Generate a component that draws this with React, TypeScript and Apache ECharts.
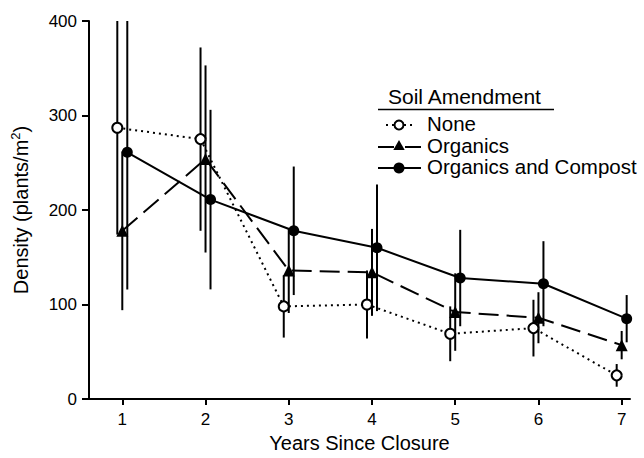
import React, { useEffect, useRef } from "react";
import * as echarts from "echarts";

const years = [1, 2, 3, 4, 5, 6, 7];
const seriesNames = ["None", "Organics", "Organics and Compost"];
const xOffsets = [-0.06, 0, 0.06];
const noneMean = [287, 275, 98, 100, 69, 75, 25];
const noneErr = [113, 97, 33, 36, 29, 30, 12];
const organicsMean = [178, 254, 136, 134, 92, 86, 57];
const organicsErr = [84, 99, 45, 46, 41, 27, 15];
const compostMean = [261, 211, 178, 160, 128, 122, 85];
const compostErr = [145, 95, 68, 67, 51, 45, 25];
const yTicks = [0, 100, 200, 300, 400];
const legendTitle = "Soil Amendment";
const xTitle = "Years Since Closure";

const FONT = "Liberation Sans, Arial, sans-serif";

export default function App() {
  const ref = useRef<HTMLDivElement>(null);
  useEffect(() => {
    if (!ref.current) return;
    const chart = echarts.init(ref.current, null, { renderer: "svg" });
    const means = [noneMean, organicsMean, compostMean];
    const errs = [noneErr, organicsErr, compostErr];
    const lineTypes: any[] = [[2, 4], [20, 8], "solid"];
    const symbols = ["circle", "triangle", "circle"];
    const symbolSizes = [10, 12, 11];
    const fills = ["#fff", "#000", "#000"];

    const series: any[] = [];
    for (let s = 0; s < 3; s++) {
      series.push({
        type: "custom",
        name: seriesNames[s] + " error",
        clip: true,
        z: 1,
        encode: { x: 0, y: [1, 2] },
        data: years.map((yr, i) => [yr + xOffsets[s], means[s][i] - errs[s][i], means[s][i] + errs[s][i]]),
        renderItem: (params: any, api: any) => {
          const x = api.value(0);
          const p1 = api.coord([x, api.value(1)]);
          const p2 = api.coord([x, api.value(2)]);
          return {
            type: "line",
            shape: { x1: p1[0], y1: p1[1], x2: p2[0], y2: p2[1] },
            style: { stroke: "#000", lineWidth: 2 },
          };
        },
      });
    }
    for (let s = 0; s < 3; s++) {
      series.push({
        type: "line",
        name: seriesNames[s],
        z: 2 + s,
        data: years.map((yr, i) => [yr + xOffsets[s], means[s][i]]),
        symbol: symbols[s],
        symbolSize: symbolSizes[s],
        showSymbol: true,
        lineStyle: { color: "#000", width: 2, type: lineTypes[s] },
        itemStyle: { color: fills[s], borderColor: "#000", borderWidth: s === 0 ? 2 : 0, opacity: 1 },
      });
    }

    const lx1 = 378, lx2 = 421, lmx = 399, ltx = 427;
    const rowsY = [125, 147, 168];
    const tri = (cx: number, cy: number, r: number) => [
      [cx, cy - r],
      [cx + r * 0.95, cy + r * 0.65],
      [cx - r * 0.95, cy + r * 0.65],
    ];

    const graphic: any[] = [
      {
        type: "text",
        left: 388,
        top: 86,
        style: { text: legendTitle, font: `21px ${FONT}`, fill: "#000" },
      },
      { type: "line", shape: { x1: lx1, y1: 109.5, x2: 554, y2: 109.5 }, style: { stroke: "#000", lineWidth: 1.6 } },
      // None row
      { type: "line", shape: { x1: 386, y1: rowsY[0], x2: 412, y2: rowsY[0] }, style: { stroke: "#000", lineWidth: 2, lineDash: [2, 4] } },
      { type: "circle", shape: { cx: lmx, cy: rowsY[0], r: 4.5 }, style: { fill: "#fff", stroke: "#000", lineWidth: 2 }, z: 10 },
      // Organics row
      { type: "line", shape: { x1: lx1, y1: rowsY[1], x2: 394, y2: rowsY[1] }, style: { stroke: "#000", lineWidth: 2 } },
      { type: "line", shape: { x1: 405, y1: rowsY[1], x2: lx2, y2: rowsY[1] }, style: { stroke: "#000", lineWidth: 2 } },
      { type: "polygon", shape: { points: tri(lmx, rowsY[1] - 1, 6) }, style: { fill: "#000" }, z: 10 },
      // Compost row
      { type: "line", shape: { x1: lx1, y1: rowsY[2], x2: lx2, y2: rowsY[2] }, style: { stroke: "#000", lineWidth: 2 } },
      { type: "circle", shape: { cx: lmx, cy: rowsY[2], r: 5.5 }, style: { fill: "#000" }, z: 10 },
    ];
    seriesNames.forEach((n, i) => {
      graphic.push({
        type: "text",
        left: ltx,
        top: rowsY[i] - 12,
        style: { text: n, font: `20.5px ${FONT}`, fill: "#000" },
      });
    });

    chart.setOption({
      animation: false,
      backgroundColor: "#fff",
      textStyle: { fontFamily: FONT, color: "#000" },
      grid: { left: 89, right: 14, top: 21, bottom: 59, containLabel: false },
      xAxis: {
        type: "value",
        min: 0.6,
        max: 7.1,
        name: xTitle,
        nameLocation: "middle",
        nameGap: 33,
        nameTextStyle: { fontSize: 20, fontFamily: FONT, color: "#000" },
        axisLine: { show: true, lineStyle: { color: "#000", width: 2 } },
        axisTick: { show: true, inside: false, length: 6, lineStyle: { color: "#000", width: 2 }, customValues: years },
        axisLabel: { fontSize: 17, color: "#000", margin: 12, fontFamily: FONT, customValues: years },
        splitLine: { show: false },
      },
      yAxis: {
        type: "value",
        min: yTicks[0],
        max: yTicks[yTicks.length - 1],
        interval: 100,
        name: "{a|Density (plants/m}{s|2}{a|)}",
        nameLocation: "middle",
        nameRotate: 90,
        nameGap: 56,
        nameTextStyle: {
          rich: {
            a: { fontSize: 20, fontFamily: FONT, color: "#000", lineHeight: 24 },
            s: { fontSize: 13, fontFamily: FONT, color: "#000", verticalAlign: "top", lineHeight: 24 },
          },
        },
        axisLine: { show: true, lineStyle: { color: "#000", width: 2 } },
        axisTick: { show: true, inside: false, length: 7, lineStyle: { color: "#000", width: 2 } },
        axisLabel: { fontSize: 17, color: "#000", margin: 12, fontFamily: FONT },
        splitLine: { show: false },
      },
      graphic,
      series,
    });
    return () => chart.dispose();
  }, []);
  return <div ref={ref} style={{ position: "fixed", left: 0, top: 0, width: 644, height: 458 }} />;
}
